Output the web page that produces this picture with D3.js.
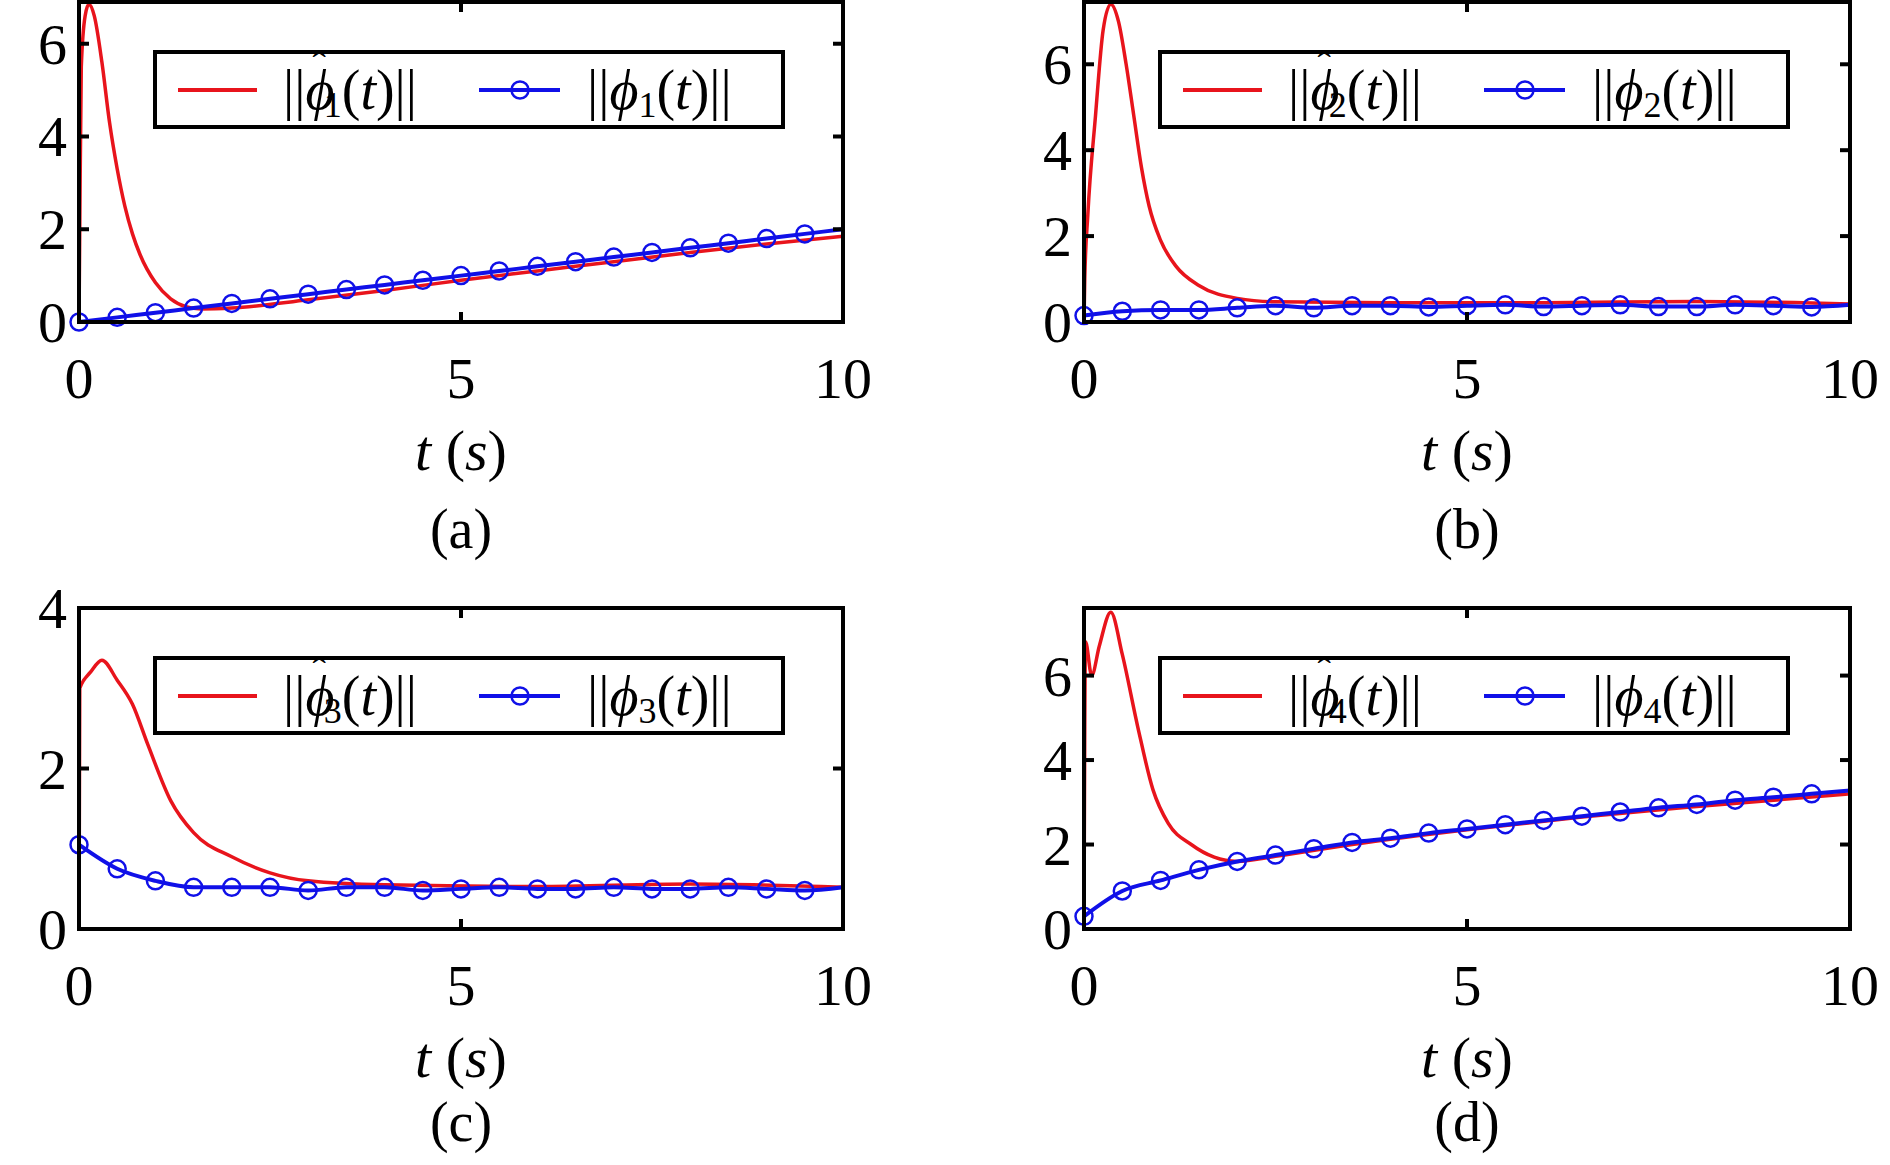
<!DOCTYPE html>
<html><head><meta charset="utf-8">
<script src="https://cdn.jsdelivr.net/npm/d3@7"></script>
<style>body{margin:0;background:#fff}svg{display:block;font-family:"Liberation Serif","Times New Roman",serif}</style>
</head><body><div id="chart"></div>
<script>
const markerT = d3.range(0, 10, 0.5)

const blueA = [0.0,0.1,0.2,0.3,0.4,0.5,0.6,0.7,0.8,0.9,1.0,1.1,1.2,1.3,1.4,1.5,1.6,1.7,1.8,1.9]
const redA = [[0,0],[0.01,2],[0.03,5.5],[0.08,6.6],[0.13,6.85],[0.2,6.6],[0.3,5.6],[0.4,4.3],[0.5,3.3],[0.6,2.5],[0.7,1.9],[0.8,1.45],[1.0,0.85],[1.2,0.5],[1.4,0.33],[1.6,0.28],[2,0.3],[3,0.48],[4,0.68],[5,0.9],[6,1.1],[7,1.3],[8,1.5],[9,1.68],[10,1.85]]

const blueB = [0.15,0.25,0.28,0.28,0.33,0.38,0.33,0.38,0.38,0.35,0.38,0.4,0.36,0.38,0.4,0.36,0.36,0.4,0.38,0.35]
const redB = [[0,0],[0.01,1],[0.05,2.5],[0.15,4.8],[0.25,6.8],[0.35,7.4],[0.45,7.0],[0.55,6.0],[0.65,4.8],[0.75,3.6],[0.85,2.7],[1.0,1.9],[1.2,1.3],[1.5,0.85],[2,0.55],[2.5,0.47],[4,0.45],[6,0.45],[8,0.48],[10,0.42]]

const blueC = [1.05,0.75,0.6,0.52,0.52,0.52,0.48,0.52,0.52,0.48,0.5,0.52,0.5,0.5,0.52,0.5,0.5,0.52,0.5,0.48]
const redC = [[0,0],[0.01,3.0],[0.15,3.2],[0.3,3.35],[0.5,3.1],[0.7,2.8],[0.9,2.3],[1.2,1.6],[1.5,1.2],[2,0.9],[2.5,0.7],[3,0.6],[4,0.55],[6,0.53],[8,0.56],[10,0.52]]

const blueD = [0.3,0.9,1.15,1.4,1.6,1.75,1.9,2.05,2.15,2.27,2.37,2.47,2.57,2.67,2.77,2.87,2.95,3.05,3.12,3.2]
const redD = [[0,0],[0.02,6.8],[0.1,6.0],[0.2,6.7],[0.35,7.5],[0.5,6.5],[0.7,4.8],[0.9,3.3],[1.1,2.5],[1.4,2.0],[1.7,1.7],[2,1.6],[2.5,1.72],[3.5,2.0],[5,2.35],[6.5,2.65],[8,2.9],[10,3.2]]

const blueEnd = [2.0, 0.4, 0.52, 3.28]
const xTicks = [0, 5, 10]
const panels = [
  {red: redA, blue: blueA, end: blueEnd[0], ymax: 6.9, yTicks: [0,2,4,6], idx: "1", tag: "(a)", x0: 79, x1: 843, y0: 2, y1: 322, tagDy: 226},
  {red: redB, blue: blueB, end: blueEnd[1], ymax: 7.45, yTicks: [0,2,4,6], idx: "2", tag: "(b)", x0: 1084, x1: 1850, y0: 2, y1: 322, tagDy: 226},
  {red: redC, blue: blueC, end: blueEnd[2], ymax: 4, yTicks: [0,2,4], idx: "3", tag: "(c)", x0: 79, x1: 843, y0: 608, y1: 929, tagDy: 212},
  {red: redD, blue: blueD, end: blueEnd[3], ymax: 7.6, yTicks: [0,2,4,6], idx: "4", tag: "(d)", x0: 1084, x1: 1850, y0: 608, y1: 929, tagDy: 212}
]

const svg = d3.select("#chart").append("svg").attr("width", 1890).attr("height", 1165)

function norm(g, hat, idx) {
  g.append("tspan").text("||")
  g.append("tspan").attr("font-style", "italic").text("\u03D5")
  if (hat) {
    g.append("tspan").attr("dx", -22).attr("dy", -30).attr("font-size", 40).text("\u02C6")
    g.append("tspan").attr("dx", -2).attr("dy", 38).attr("font-size", 36).text(idx)
  } else {
    g.append("tspan").attr("dy", 8).attr("font-size", 36).text(idx)
  }
  g.append("tspan").attr("dy", -8).text("(")
  g.append("tspan").attr("font-style", "italic").text("t")
  g.append("tspan").text(")||")
}

panels.forEach(p => {
  const x = d3.scaleLinear().domain([0, 10]).range([p.x0, p.x1])
  const y = d3.scaleLinear().domain([0, p.ymax]).range([p.y1, p.y0])
  const g = svg.append("g")
  const clipId = "clip" + p.idx
  svg.append("clipPath").attr("id", clipId).append("rect")
    .attr("x", p.x0).attr("y", p.y0).attr("width", p.x1 - p.x0).attr("height", p.y1 - p.y0)

  const line = d3.line().x(d => x(d[0])).y(d => y(d[1])).curve(d3.curveMonotoneX)
  const blueData = markerT.map((t, i) => [t, p.blue[i]]).concat([[10, p.end]])

  g.append("path").datum(p.red).attr("d", line).attr("fill", "none")
    .attr("stroke", "#e8141c").attr("stroke-width", 3.5).attr("clip-path", `url(#${clipId})`)
  g.append("path").datum(blueData).attr("d", line).attr("fill", "none")
    .attr("stroke", "#1010e8").attr("stroke-width", 4)
  g.selectAll("circle").data(blueData.slice(0, -1)).join("circle")
    .attr("cx", d => x(d[0])).attr("cy", d => y(d[1])).attr("r", 8.5)
    .attr("fill", "none").attr("stroke", "#1010e8").attr("stroke-width", 2.5)

  // frame and inward ticks
  g.append("rect").attr("x", p.x0).attr("y", p.y0).attr("width", p.x1 - p.x0).attr("height", p.y1 - p.y0)
    .attr("fill", "none").attr("stroke", "#000").attr("stroke-width", 4)
  xTicks.forEach(t => {
    g.append("line").attr("x1", x(t)).attr("x2", x(t)).attr("y1", p.y1).attr("y2", p.y1 - 10).attr("stroke", "#000").attr("stroke-width", 4)
    g.append("line").attr("x1", x(t)).attr("x2", x(t)).attr("y1", p.y0).attr("y2", p.y0 + 10).attr("stroke", "#000").attr("stroke-width", 4)
    g.append("text").attr("x", x(t)).attr("y", p.y1 + 76).attr("text-anchor", "middle").attr("font-size", 58).text(t)
  })
  p.yTicks.forEach(v => {
    g.append("line").attr("x1", p.x0).attr("x2", p.x0 + 10).attr("y1", y(v)).attr("y2", y(v)).attr("stroke", "#000").attr("stroke-width", 4)
    g.append("line").attr("x1", p.x1).attr("x2", p.x1 - 10).attr("y1", y(v)).attr("y2", y(v)).attr("stroke", "#000").attr("stroke-width", 4)
    g.append("text").attr("x", p.x0 - 12).attr("y", y(v) + 20).attr("text-anchor", "end").attr("font-size", 58).text(v)
  })

  const cx = (p.x0 + p.x1) / 2
  const xl = g.append("text").attr("x", cx).attr("y", p.y1 + 148).attr("text-anchor", "middle").attr("font-size", 58)
  xl.append("tspan").attr("font-style", "italic").text("t")
  xl.append("tspan").text(" (")
  xl.append("tspan").attr("font-style", "italic").text("s")
  xl.append("tspan").text(")")
  g.append("text").attr("x", cx).attr("y", p.y1 + p.tagDy).attr("text-anchor", "middle").attr("font-size", 56).text(p.tag)

  // legend
  const lx = p.x0 + 76, ly = p.y0 + 50
  g.append("rect").attr("x", lx).attr("y", ly).attr("width", 628).attr("height", 75)
    .attr("fill", "#fff").attr("stroke", "#000").attr("stroke-width", 4)
  const my = ly + 38
  g.append("line").attr("x1", lx + 23).attr("x2", lx + 102).attr("y1", my).attr("y2", my).attr("stroke", "#e8141c").attr("stroke-width", 4)
  g.append("line").attr("x1", lx + 324).attr("x2", lx + 405).attr("y1", my).attr("y2", my).attr("stroke", "#1010e8").attr("stroke-width", 4)
  g.append("circle").attr("cx", lx + 365).attr("cy", my).attr("r", 8.5).attr("fill", "none").attr("stroke", "#1010e8").attr("stroke-width", 2.5)
  norm(g.append("text").attr("x", lx + 128).attr("y", my + 19).attr("font-size", 56), true, p.idx)
  norm(g.append("text").attr("x", lx + 432).attr("y", my + 19).attr("font-size", 56), false, p.idx)
})
</script></body></html>
